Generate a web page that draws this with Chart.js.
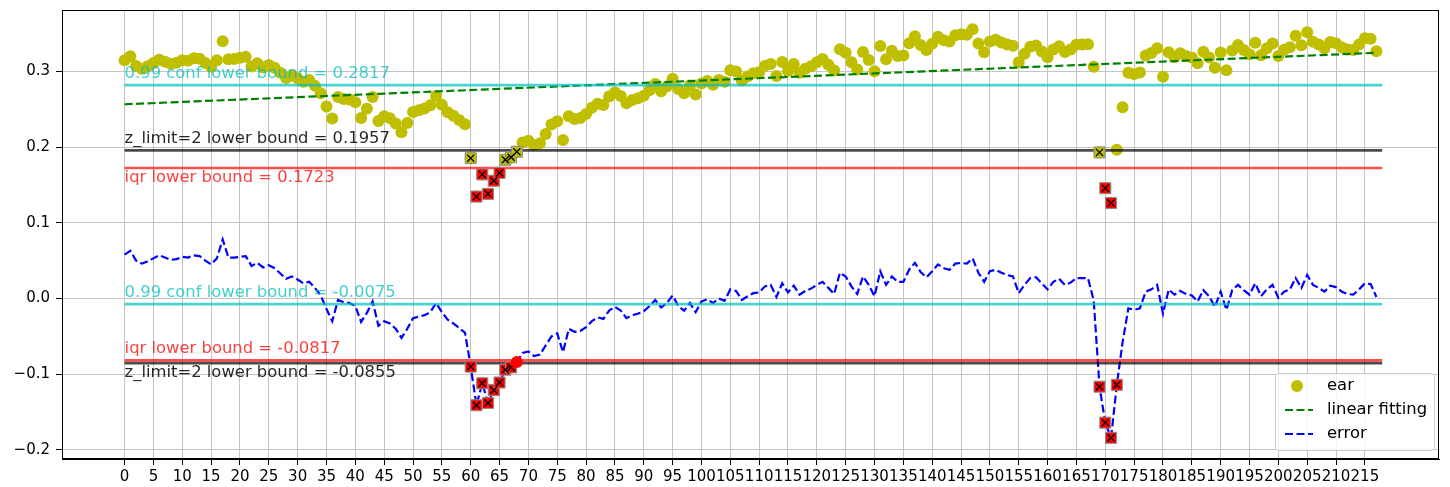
<!DOCTYPE html>
<html>
<head>
<meta charset="utf-8">
<script src="https://cdn.jsdelivr.net/npm/chart.js"></script>
<style>
  html, body { margin: 0; padding: 0; background: #fff; }
</style>
</head>
<body>
<canvas id="earChart" width="1450" height="487"></canvas>
<script>
// eye aspect ratio per frame, and its residual from the linear fit
const earValues = [
  0.3145, 0.3198, 0.3071, 0.3034, 0.3068, 0.3111, 0.3154, 0.3127, 0.3100, 0.3113,
  0.3146, 0.3139, 0.3173, 0.3166, 0.3109, 0.3062, 0.3145, 0.3398, 0.3161, 0.3164,
  0.3178, 0.3191, 0.3064, 0.3107, 0.3050, 0.3083, 0.3046, 0.2980, 0.2913, 0.2946,
  0.2909, 0.2862, 0.2885, 0.2808, 0.2711, 0.2535, 0.2378, 0.2661, 0.2634, 0.2627,
  0.2590, 0.2383, 0.2506, 0.2660, 0.2343, 0.2406, 0.2379, 0.2312, 0.2195, 0.2318,
  0.2462, 0.2485, 0.2508, 0.2551, 0.2674, 0.2557, 0.2460, 0.2413, 0.2357, 0.2300,
  0.1853, 0.1346, 0.1639, 0.1382, 0.1555, 0.1658, 0.1832, 0.1865, 0.1938, 0.2061,
  0.2084, 0.2027, 0.2050, 0.2173, 0.2297, 0.2340, 0.2093, 0.2406, 0.2369, 0.2382,
  0.2435, 0.2519, 0.2572, 0.2555, 0.2668, 0.2721, 0.2674, 0.2577, 0.2620, 0.2644,
  0.2677, 0.2750, 0.2833, 0.2736, 0.2799, 0.2902, 0.2765, 0.2709, 0.2812, 0.2695,
  0.2838, 0.2871, 0.2824, 0.2887, 0.2861, 0.3014, 0.2997, 0.2880, 0.2933, 0.2976,
  0.2989, 0.3072, 0.3096, 0.2939, 0.3122, 0.3005, 0.3098, 0.2981, 0.3034, 0.3067,
  0.3121, 0.3164, 0.3087, 0.3010, 0.3293, 0.3246, 0.3119, 0.3023, 0.3256, 0.3149,
  0.3002, 0.3335, 0.3158, 0.3271, 0.3204, 0.3208, 0.3371, 0.3464, 0.3347, 0.3280,
  0.3363, 0.3456, 0.3409, 0.3393, 0.3476, 0.3489, 0.3482, 0.3555, 0.3368, 0.3251,
  0.3395, 0.3418, 0.3381, 0.3354, 0.3337, 0.3120, 0.3233, 0.3326, 0.3340, 0.3263,
  0.3186, 0.3289, 0.3332, 0.3255, 0.3288, 0.3351, 0.3355, 0.3358, 0.3061, 0.1929,
  0.1457, 0.1260, 0.1963, 0.2526, 0.2980, 0.2963, 0.2986, 0.3209, 0.3242, 0.3305,
  0.2928, 0.3252, 0.3185, 0.3238, 0.3201, 0.3184, 0.3107, 0.3260, 0.3183, 0.3047,
  0.3250, 0.3013, 0.3276, 0.3349, 0.3282, 0.3225, 0.3378, 0.3212, 0.3305, 0.3368,
  0.3201, 0.3284, 0.3317, 0.3470, 0.3344, 0.3517, 0.3390, 0.3353, 0.3306, 0.3389,
  0.3372, 0.3315, 0.3289, 0.3282, 0.3355, 0.3438, 0.3431, 0.3264
];

const errorValues = [
  0.058, 0.063, 0.050, 0.046, 0.049, 0.053, 0.057, 0.054, 0.051, 0.052,
  0.055, 0.054, 0.057, 0.056, 0.050, 0.045, 0.053, 0.078, 0.054, 0.054,
  0.055, 0.056, 0.043, 0.047, 0.041, 0.044, 0.040, 0.033, 0.026, 0.029,
  0.025, 0.020, 0.022, 0.014, 0.004, -0.014, -0.030, -0.002, -0.005, -0.006,
  -0.010, -0.031, -0.019, -0.004, -0.036, -0.030, -0.033, -0.040, -0.052, -0.040,
  -0.026, -0.024, -0.022, -0.018, -0.006, -0.018, -0.028, -0.033, -0.039, -0.045,
  -0.090, -0.141, -0.112, -0.138, -0.121, -0.111, -0.094, -0.091, -0.084, -0.072,
  -0.070, -0.076, -0.074, -0.062, -0.050, -0.046, -0.071, -0.040, -0.044, -0.043,
  -0.038, -0.030, -0.025, -0.027, -0.016, -0.011, -0.016, -0.026, -0.022, -0.020,
  -0.017, -0.010, -0.002, -0.012, -0.006, 0.004, -0.010, -0.016, -0.006, -0.018,
  -0.004, -0.001, -0.006, 0.000, -0.003, 0.012, 0.010, -0.002, 0.003, 0.007,
  0.008, 0.016, 0.018, 0.002, 0.020, 0.008, 0.017, 0.005, 0.010, 0.013,
  0.018, 0.022, 0.014, 0.006, 0.034, 0.029, 0.016, 0.006, 0.029, 0.018,
  0.003, 0.036, 0.018, 0.029, 0.022, 0.022, 0.038, 0.047, 0.035, 0.028,
  0.036, 0.045, 0.040, 0.038, 0.046, 0.047, 0.046, 0.053, 0.034, 0.022,
  0.036, 0.038, 0.034, 0.031, 0.029, 0.007, 0.018, 0.027, 0.028, 0.020,
  0.012, 0.022, 0.026, 0.018, 0.021, 0.027, 0.027, 0.027, -0.003, -0.1165,
  -0.164, -0.184, -0.114, -0.058, -0.013, -0.015, -0.013, 0.009, 0.012, 0.018,
  -0.020, 0.012, 0.005, 0.010, 0.006, 0.004, -0.004, 0.011, 0.003, -0.011,
  0.009, -0.015, 0.011, 0.018, 0.011, 0.005, 0.020, 0.003, 0.012, 0.018,
  0.001, 0.009, 0.012, 0.027, 0.014, 0.031, 0.018, 0.014, 0.009, 0.017,
  0.015, 0.009, 0.006, 0.005, 0.012, 0.020, 0.019, 0.002
];

// linear fitting, value at first and last frame
const fitEnds = [0.2565, 0.3245];

// lower bounds drawn as horizontal lines
const boundLabels = [
  "0.99 conf lower bound", "z_limit=2 lower bound", "iqr lower bound",
  "0.99 conf lower bound", "iqr lower bound", "z_limit=2 lower bound"
];
const boundValues = [0.2817, 0.1957, 0.1723, -0.0075, -0.0817, -0.0855];

// flagged frames
const earWarnIdx = [60, 66, 67, 68, 169];
const earOutIdx = [61, 62, 63, 64, 65, 170, 171];
const errOutIdx = [60, 61, 62, 63, 64, 65, 66, 67, 169, 170, 171, 172];
const errWarnIdx = [68];

const xTicks = [0, 5, 10, 15, 20, 25, 30, 35, 40, 45, 50, 55, 60, 65, 70, 75, 80, 85, 90, 95,
  100, 105, 110, 115, 120, 125, 130, 135, 140, 145, 150, 155, 160, 165, 170, 175, 180, 185,
  190, 195, 200, 205, 210, 215];
const yTicks = [-0.2, -0.1, 0.0, 0.1, 0.2, 0.3];

// styles
const FONT = '"DejaVu Sans", sans-serif';
const boundColors = ["rgba(0,191,191,0.7)", "rgba(0,0,0,0.7)", "rgba(255,0,0,0.7)",
  "rgba(0,191,191,0.7)", "rgba(255,0,0,0.7)", "rgba(0,0,0,0.7)"];
const boundTextColors = ["rgba(0,191,191,0.75)", "rgba(0,0,0,0.85)", "rgba(255,0,0,0.75)",
  "rgba(0,191,191,0.75)", "rgba(255,0,0,0.75)", "rgba(0,0,0,0.85)"];
const boundTextAbove = [true, true, false, true, true, false];

const lastFrame = earValues.length - 1;
const toPts = (vals) => vals.map((v, i) => ({ x: i, y: v }));
const pick = (vals, idx) => idx.map((i) => ({ x: i, y: vals[i] }));

const datasets = [];

datasets.push({
  label: "ear", data: toPts(earValues), showLine: false,
  pointRadius: 6, pointBackgroundColor: "#bfbf00", pointBorderWidth: 0,
  backgroundColor: "#bfbf00", borderColor: "#bfbf00", order: 20
});
datasets.push({
  label: "linear fitting", data: [{ x: 0, y: fitEnds[0] }, { x: lastFrame, y: fitEnds[1] }],
  showLine: true, borderColor: "#008000", borderWidth: 2.2, borderDash: [8, 3.5],
  pointRadius: 0, order: 19
});
datasets.push({
  label: "error", data: toPts(errorValues), showLine: true,
  borderColor: "#0000ff", borderWidth: 2.2, borderDash: [8, 3.5],
  pointRadius: 0, tension: 0, order: 18
});
boundValues.forEach((v, i) => {
  datasets.push({
    label: "_bound" + i, data: [{ x: 0, y: v }, { x: earValues.length, y: v }],
    showLine: true, borderColor: boundColors[i], borderWidth: 2.7,
    pointRadius: 0, order: 10 + i
  });
});

function squareMarks(pts, fill, order) {
  datasets.push({
    label: "_sq", data: pts, showLine: false, pointStyle: "rect", pointRadius: 7.8,
    pointBackgroundColor: fill, pointBorderColor: "#8c8c8c", pointBorderWidth: 1, order: order
  });
  datasets.push({
    label: "_x", data: pts, showLine: false, pointStyle: "crossRot", pointRadius: 5,
    pointBorderColor: "#000", pointBorderWidth: 1.3, order: order - 1
  });
}
squareMarks(pick(earValues, earWarnIdx), "#bfbf00", 9);
squareMarks(pick(earValues, earOutIdx), "#ff0000", 7);
squareMarks(pick(errorValues, errOutIdx), "#ff0000", 5);
datasets.push({
  label: "_circ", data: pick(errorValues, errWarnIdx), showLine: false,
  pointRadius: 6, pointBackgroundColor: "#ff0000", pointBorderWidth: 0, order: 3
});

const boundTextPlugin = {
  id: "boundText",
  afterDatasetsDraw(chart) {
    const { ctx, scales: { x, y } } = chart;
    ctx.save();
    ctx.font = "16.4px " + FONT;
    ctx.textAlign = "left";
    ctx.textBaseline = "alphabetic";
    boundValues.forEach((v, i) => {
      const py = y.getPixelForValue(v);
      ctx.fillStyle = boundTextColors[i];
      ctx.fillText(boundLabels[i] + " = " + v, x.getPixelForValue(0),
        boundTextAbove[i] ? py - 7.5 : py + 14);
    });
    ctx.restore();
  }
};

const framePlugin = {
  id: "frame",
  afterDraw(chart) {
    const { ctx, chartArea: a } = chart;
    ctx.save();
    ctx.strokeStyle = "#000";
    ctx.lineWidth = 1;
    ctx.strokeRect(a.left + 0.5, a.top + 0.5, a.right - a.left - 1, a.bottom - a.top - 1);

    // legend, lower right inside the axes
    const w = 159, h = 77;
    const left = a.right - 5 - w, top = a.bottom - 9 - h;
    ctx.fillStyle = "rgba(255,255,255,0.8)";
    ctx.strokeStyle = "#d0d0d0";
    ctx.beginPath();
    ctx.roundRect(left + 0.5, top + 0.5, w, h, 3);
    ctx.fill();
    ctx.stroke();
    ctx.font = "16.4px " + FONT;
    ctx.textBaseline = "middle";
    ctx.textAlign = "left";
    [0, 1, 2].forEach((k) => {
      const ds = chart.data.datasets[k];
      const cy = top + 13 + k * 24;
      if (k === 0) {
        ctx.fillStyle = ds.pointBackgroundColor;
        ctx.beginPath();
        ctx.arc(left + 22, cy, 6, 0, Math.PI * 2);
        ctx.fill();
      } else {
        ctx.strokeStyle = ds.borderColor;
        ctx.lineWidth = 2.2;
        ctx.setLineDash([8, 3.5]);
        ctx.beginPath();
        ctx.moveTo(left + 10, cy);
        ctx.lineTo(left + 38, cy);
        ctx.stroke();
        ctx.setLineDash([]);
      }
      ctx.fillStyle = "#000";
      ctx.fillText(ds.label, left + 52, cy);
    });
    ctx.restore();
  }
};

new Chart("earChart", {
  type: "scatter",
  data: { datasets: datasets },
  plugins: [boundTextPlugin, framePlugin],
  options: {
    responsive: false,
    animation: false,
    devicePixelRatio: 1,
    events: [],
    layout: { padding: { top: 10, right: 11, left: 0, bottom: 0 } },
    plugins: { legend: { display: false }, tooltip: { enabled: false } },
    scales: {
      x: {
        type: "linear", min: -10.85, max: 227.85,
        afterBuildTicks: (s) => { s.ticks = xTicks.map((v) => ({ value: v })); },
        afterFit: (s) => { s.height = 28; s.paddingLeft = 0; s.paddingRight = 0; },
        ticks: { autoSkip: false, maxRotation: 0, minRotation: 0, padding: 3,
          color: "#000", font: { family: FONT, size: 15 }, callback: (v) => String(v) },
        grid: { color: "#c4c4c4", lineWidth: 1, tickColor: "#000", tickLength: 6 },
        border: { color: "#000" }
      },
      y: {
        type: "linear", min: -0.212, max: 0.381,
        afterBuildTicks: (s) => { s.ticks = yTicks.map((v) => ({ value: v })); },
        afterFit: (s) => { s.width = 62; s.paddingTop = 0; s.paddingBottom = 0; },
        ticks: { padding: 6, color: "#000", font: { family: FONT, size: 15 },
          callback: (v) => (v < 0 ? "\u2212" : "") + Math.abs(v).toFixed(1) },
        grid: { color: "#c4c4c4", lineWidth: 1, tickColor: "#000", tickLength: 6 },
        border: { color: "#000" }
      }
    }
  }
});
</script>
</body>
</html>
